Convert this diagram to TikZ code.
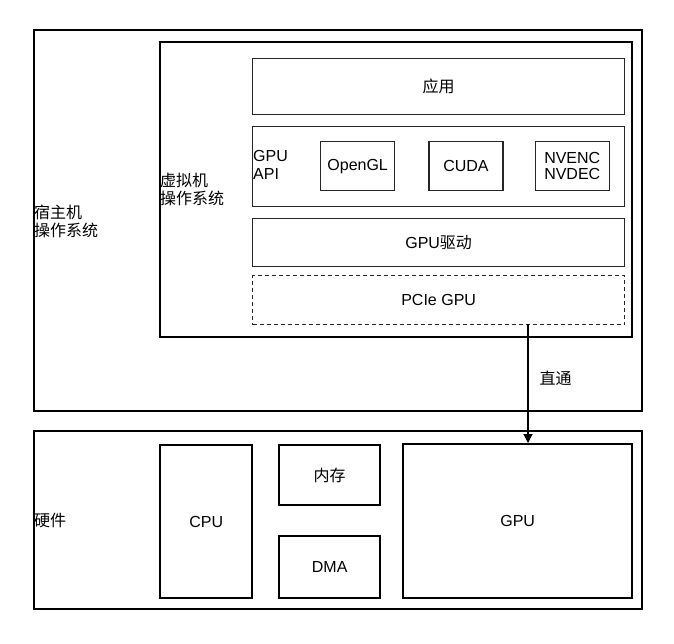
\documentclass[tikz,border=0pt]{standalone}
\usepackage{fontspec}
\setmainfont{Liberation Sans}
\newfontfamily\cjk{Noto Sans CJK SC}
\usepackage{tikz}
\usetikzlibrary{positioning}
\usetikzlibrary{arrows.meta}

\tikzset{
    outerbox/.style={draw, line width=2.4pt, anchor=north west, inner sep=0pt},
    layerbox/.style={draw=black!85, line width=1.3pt, anchor=north west, inner sep=0pt, align=center},
    dashbox/.style={layerbox, dashed, dash pattern=on 4pt off 3pt},
    sidelabel/.style={anchor=west, align=left, inner sep=1pt},
}

\begin{document}
\begin{tikzpicture}[x=1pt, y=-1pt, font=\fontsize{16pt}{18pt}\selectfont]
    \useasboundingbox (0,0) rectangle (674,643);

        % host and guest
        \node [outerbox, minimum width=608, minimum height=381] (host) at (33,29) {};
        \node [outerbox, minimum width=472, minimum height=295] (vm) at (159,41) {};

        \node [layerbox, minimum width=372, minimum height=56] (app) at (252,58) {\cjk 应用};
        \node [layerbox, minimum width=372, minimum height=80] (api) at (252,126) {};
        \node [layerbox, minimum width=74, minimum height=49] (opengl) at (320,141) {OpenGL};
        \node [layerbox, minimum width=74, minimum height=49, right=33pt of opengl.north east, anchor=north west] (cuda) {CUDA};
        \node [layerbox, minimum width=74, minimum height=49, right=31pt of cuda.north east, anchor=north west] (nvcodec) {NVENC\\[-2pt]NVDEC};
        \node [layerbox, minimum width=372, minimum height=48] (driver) at (252,218) {GPU{\cjk 驱动}};
        \node [dashbox, minimum width=372, minimum height=49] (pcie) at (252,275) {PCIe GPU};

        \node [sidelabel] (hostlbl) at (33,221) {\cjk 宿主机\\\cjk 操作系统};
        \node [sidelabel] (vmlbl) at (159,189) {\cjk 虚拟机\\\cjk 操作系统};
        \node [sidelabel] (apilbl) at (252,165) {GPU\\API};

        % hardware
        \node [outerbox, minimum width=608, minimum height=178] (hw) at (33,430) {};
        \node [outerbox, minimum width=92, minimum height=153, align=center] (cpu) at (159,444) {CPU};
        \node [outerbox, minimum width=101, minimum height=60, align=center] (mem) at (278,444) {\cjk 内存};
        \node [outerbox, minimum width=101, minimum height=62, align=center, below=28.6pt of mem.south west, anchor=north west] (dma) {DMA};
        \node [outerbox, minimum width=229, minimum height=154, align=center] (gpu) at (402,443) {GPU};
        \node [sidelabel] (hwlbl) at (33,520) {\cjk 硬件};

        % passthrough
        \coordinate (tap) at (528,324);
        \draw [line width=1.1pt, -{Triangle[width=9pt, length=9pt]}] (tap) -- (tap |- gpu.north)
            node [pos=0.46, right=11pt, inner sep=0pt] (passlbl) {\cjk 直通};

\end{tikzpicture}
\end{document}
